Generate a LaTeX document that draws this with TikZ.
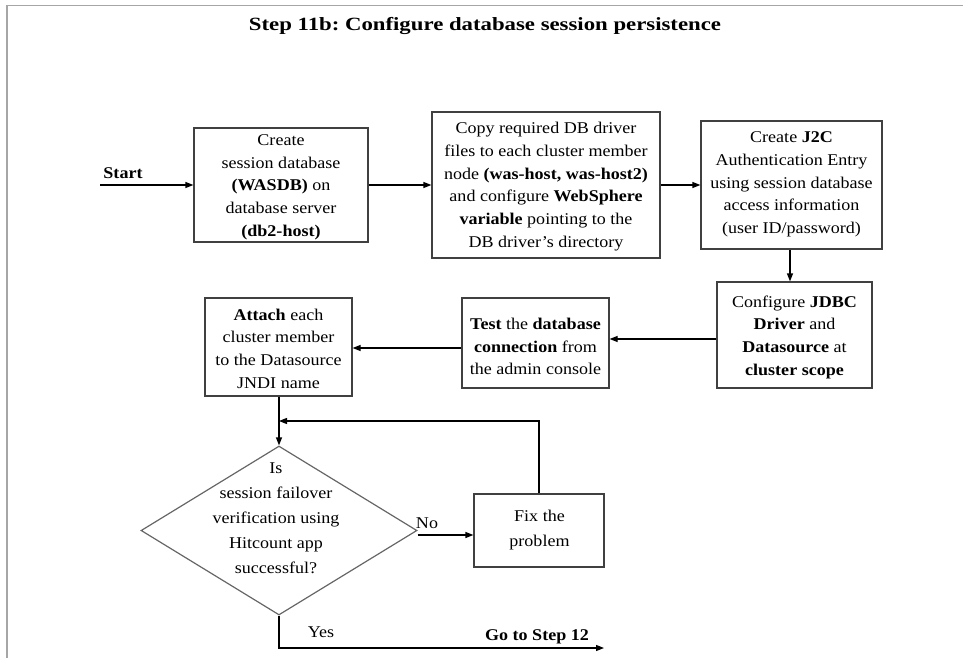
\documentclass[tikz,border=0pt]{standalone}
\usepackage{fontspec}
\setmainfont{Liberation Serif}[FakeStretch=1.1]
\newfontfamily\titlefont{Liberation Serif}[FakeStretch=1.22]
\usetikzlibrary{arrows.meta,shapes.geometric}
\frenchspacing
\begin{document}
\begin{tikzpicture}[x=0.75pt,y=-0.75pt,
  box/.style={draw=black!75, line width=0.9pt, align=center, inner sep=1pt},
  txt/.style={align=center, inner sep=0pt, font=\fontsize{12.3}{17}\selectfont},
  ltxt/.style={align=center, inner sep=0pt, font=\fontsize{12.3}{18.7}\selectfont},
  arr/.style={-{Triangle[length=6pt,width=4.5pt]}, line width=0.9pt},
  frame/.style={draw=black!35, line width=1.2pt}]
\useasboundingbox (0,0) rectangle (963,658);
\draw[frame] (7,658) -- (7,5.5) -- (963,5.5);
% title
\node[inner sep=0pt, font=\titlefont\fontsize{14}{16}\selectfont\bfseries] (title) at (485,26) {Step 11b: Configure database session persistence};
% start
\node[inner sep=0pt, font=\fontsize{12.3}{14}\selectfont\bfseries] (start) at (123,173) {Start};
\coordinate (s0) at (100,185);
% boxes
\node[box, minimum width=130.5pt, minimum height=85.5pt] (b1) at (281,185) {};
\node[txt] (t1) at (281,187) {Create\\session database\\\textbf{(WASDB)} on\\database server\\ \textbf{(db2-host)}};
\node[box, minimum width=171pt, minimum height=109.5pt] (b2) at (546,185) {};
\node[txt] (t2) at (546,186.5) {Copy required DB driver\\files to each cluster member\\ node \textbf{(was-host, was-host2)}\\and configure \textbf{WebSphere}\\\textbf{variable} pointing to the\\ DB driver’s directory};
\node[box, minimum width=135.75pt, minimum height=96pt] (b3) at (791.5,185) {};
\node[txt] (t3) at (791.5,184.5) {Create \textbf{J2C}\\Authentication Entry\\using session database\\access information\\(user ID/password)};
\node[box, minimum width=116.25pt, minimum height=79.5pt] (b4) at (794.5,335) {};
\node[txt] (t4) at (794.5,337) {Configure \textbf{JDBC}\\\textbf{Driver} and\\\textbf{Datasource} at\\\textbf{cluster scope}};
\node[box, minimum width=110.25pt, minimum height=67.5pt] (b5) at (535.5,343) {};
\node[txt] (t5) at (535.5,346.5) {\textbf{Test} the \textbf{database}\\\textbf{connection} from\\the admin console};
\node[box, minimum width=110.25pt, minimum height=73.5pt] (b6) at (278.5,347) {};
\node[txt] (t6) at (278.5,348.5) {\textbf{Attach} each\\cluster member\\to the Datasource\\JNDI name};
% decision
\node[draw=black!60, line width=0.9pt, diamond, minimum width=207pt, minimum height=126.75pt, inner sep=0pt] (d) at (279,530.5) {};
\node[ltxt] (dt) at (276,518) {Is\\session failover\\verification using\\Hitcount app\\successful?};
\node[box, minimum width=97.5pt, minimum height=54.75pt] (fix) at (539,530.5) {};
\node[ltxt] (ft) at (539.5,530.5) {Fix the\\problem};
% labels
\node[inner sep=0pt, font=\fontsize{12.3}{14}\selectfont] (no) at (427,523) {No};
\node[inner sep=0pt, font=\fontsize{12.3}{14}\selectfont] (yes) at (321,632) {Yes};
\node[inner sep=0pt, font=\fontsize{12.3}{14}\selectfont\bfseries] (goto) at (537,637) {Go to Step 12};
% connectors
\draw[arr] (s0) -- (b1.west);
\draw[arr] (b1.east) -- (b2.west);
\draw[arr] (b2.east) -- (b3.west);
\coordinate (c34) at (790,0);
\draw[arr] (b3.south -| c34) -- (b4.north -| c34);
\coordinate (r45) at (0,339);
\draw[arr] (b4.west |- r45) -- (b5.east |- r45);
\coordinate (r56) at (0,348);
\draw[arr] (b5.west |- r56) -- (b6.east |- r56);
\coordinate (c6d) at (279,0);
\draw[arr] (b6.south -| c6d) -- (d.north);
\coordinate (rdf) at (0,535);
\draw[arr] (d.east |- rdf) -- (fix.west |- rdf);
\coordinate (loop) at (0,421);
\draw[arr] (fix.north) -- (fix.north |- loop) -- (d.north |- loop);
\coordinate (yb) at (0,648);
\coordinate (ye) at (604,648);
\draw[arr] (d.south) -- (d.south |- yb) -- (ye);
\end{tikzpicture}
\end{document}
